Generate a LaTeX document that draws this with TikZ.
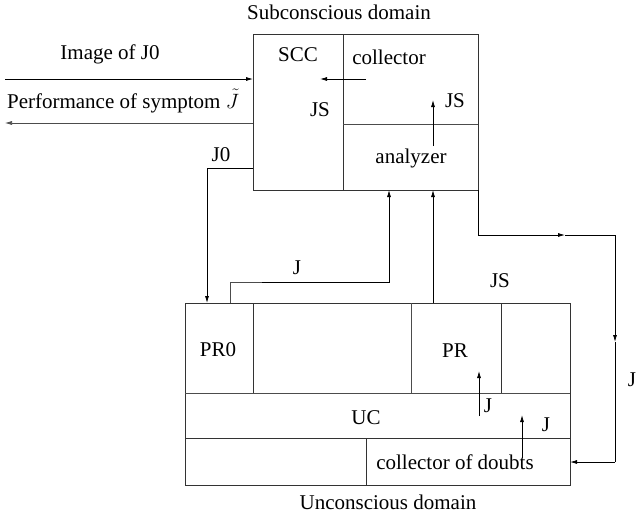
\documentclass[tikz,border=0pt]{standalone}
\usepackage{fontspec}
\setmainfont{Liberation Serif}
\usetikzlibrary{arrows.meta}
\begin{document}
\begin{tikzpicture}[x=1pt,y=-1pt,
  every node/.style={font=\fontsize{21}{24}\selectfont,inner sep=1pt},
  box/.style={draw=black!80,line width=1pt},
  thin/.style={draw=black!70,line width=0.6pt},
  wire/.style={draw=black,line width=0.8pt},
  arr/.style={wire,-{Latex[length=7pt,width=4pt]}}]
\useasboundingbox (0,0) rectangle (640,514);
% Subconscious domain
\draw[box] (253,34) rectangle (478,190);
\draw[box] (343,34) -- (343,190);
\draw[thin] (343,124) -- (478,124);
\node (sub) at (339,12) {Subconscious domain};
\node (scc) at (298,55) {SCC};
\node (col) at (389,57) {collector};
\node (jsl) at (320,110) {JS};
\node (jsr) at (455,101) {JS};
\node (ana) at (411,158) {analyzer};
% Unconscious domain
\draw[box] (185,303) rectangle (570,485);
\draw[thin] (185,393) -- (570,393);
\draw[box] (185,438) -- (570,438);
\draw[box] (253,303) -- (253,393);
\draw[thin] (411,303) -- (411,393);
\draw[box] (501,303) -- (501,393);
\draw[box] (366,438) -- (366,485);
\node (unc) at (388,502) {Unconscious domain};
\node (pr0) at (218,350) {PR0};
\node (pr) at (455,351) {PR};
\node (uc) at (366,418) {UC};
\node (cod) at (455,462) {collector of doubts};
% inputs and outputs
\coordinate (in0) at (5,79);
\coordinate (in1) at (253,79);
\coordinate (out0) at (253,123);
\coordinate (out1) at (5,123);
\node (img) at (110,54) {Image of J0};
\node (perf) at (123,101) {Performance of symptom $\tilde J$};
\draw[arr] (in0) -- (in1);
\draw[thin,-{Latex[length=7pt,width=4pt]}] (out0) -- (out1);
% inner arrows
\coordinate (c0) at (366,79);
\coordinate (c1) at (320,79);
\draw[arr] (c0) -- (c1);
\coordinate (a0) at (433,146);
\coordinate (a1) at (433,100);
\draw[arr] (a0) -- (a1);
\coordinate (p0) at (479,416);
\coordinate (p1) at (479,371);
\draw[arr] (p0) -- (p1);
\node (jp) at (488,406) {J};
\coordinate (d0) at (522,458);
\coordinate (d1) at (522,415);
\draw[arr] (d0) -- (d1);
\node (jd) at (546,425) {J};
% J0 feed
\coordinate (j0a) at (253,168);
\coordinate (j0b) at (207,303);
\draw[arr] (j0a) -| (j0b);
\node (lj0) at (221,155) {J0};
% J feed
\coordinate (ja) at (230,303);
\coordinate (jb) at (389,190);
\draw[thin] (ja) |- (262,282) coordinate (jm);
\draw[arr] (jm) -| (jb);
\node (lj) at (297,268) {J};
% JS feed
\coordinate (jsa) at (433,303);
\coordinate (jsb) at (433,190);
\draw[arr] (jsa) -- (jsb);
\node (ljs) at (500,281) {JS};
% loop to collector of doubts
\coordinate (ra) at (478,190);
\coordinate (rb) at (565,235);
\coordinate (rc) at (615,342);
\coordinate (rd) at (570,462);
\draw[arr] (ra) |- (rb);
\draw[wire] (rb) -- (615,235) coordinate (rcorner);
\draw[arr] (rcorner) -- (rc);
\draw[wire] (rc) -- (615,462) coordinate (rlow);
\draw[arr] (rlow) -- (rd);
\node (lr) at (632,380) {J};
\end{tikzpicture}
\end{document}
